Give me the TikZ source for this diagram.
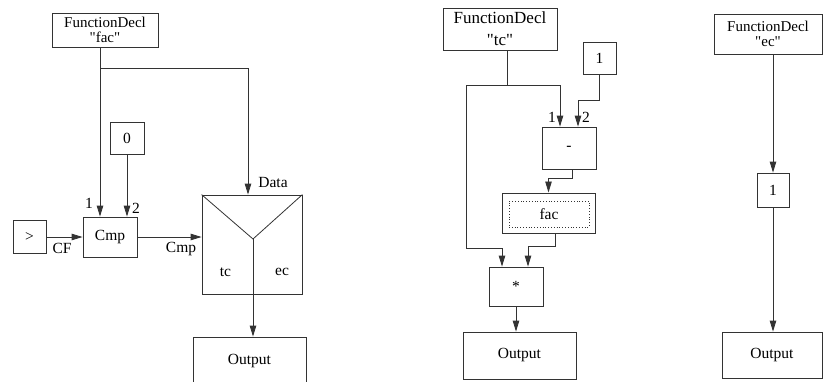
\documentclass[tikz,border=0pt]{standalone}
\usepackage{fontspec}
\setmainfont{Liberation Serif}
\usetikzlibrary{arrows.meta}

\begin{document}
\begin{tikzpicture}[x=1pt,y=-1pt,
  box/.style={draw=black!80, line width=0.8pt, inner sep=0pt, align=center,
              font=\fontsize{15.5}{16}\selectfont},
  decl/.style={box, font=\fontsize{15}{14.5}\selectfont},
  wire/.style={draw=black!80, line width=0.8pt},
  arr/.style={wire, -{Triangle[length=11pt,width=6.5pt]}},
  lbl/.style={inner sep=0pt, font=\fontsize{15.5}{16}\selectfont}]

\clip (0,0) rectangle (823,381);

% ---------- fac ----------
\node[decl,minimum width=106pt,minimum height=34pt] (fdfac) at (105,30) {FunctionDecl\\\textquotedbl fac\textquotedbl};
\node[box,minimum width=34pt,minimum height=32pt] (zero) at (127,138) {0};
\node[box,minimum width=54pt,minimum height=40pt] (cmp) at (110,237) {Cmp};
\node[box,minimum width=33pt,minimum height=33pt] (gt) at (29.5,237) {>};
\node[box,minimum width=100pt,minimum height=99pt] (sw) at (252,244.5) {};
\coordinate (swc) at (253,239);
\draw[wire] (sw.north west) -- (swc) -- (sw.north east);
\node[box,minimum width=113pt,minimum height=48pt] (outl) at (249.5,361) {Output};

\coordinate (fork) at (100,68);
\coordinate (datain) at (248,68);
\draw[arr] (fork |- fdfac.south) -- (fork |- cmp.north);
\draw[arr] (fork) -- (datain) -- (datain |- sw.north);
\draw[arr] (zero.south) -- (zero.south |- cmp.north);
\draw[arr] (gt.east) -- (gt.east -| cmp.west);
\draw[arr] (cmp.east) -- (cmp.east -| sw.west);
\draw[arr] (swc) -- (swc |- outl.north);

\node[lbl] (l1) at (89,203) {1};
\node[lbl] (l2) at (136,208) {2};
\node[lbl] (ldata) at (273,182) {Data};
\node[lbl] (lcf) at (62,248) {CF};
\node[lbl] (lcmp) at (181,249) {Cmp};
\node[lbl] (ltc) at (225.5,272) {tc};
\node[lbl] (lec) at (282,272) {ec};

% ---------- tc ----------
\node[box,font=\fontsize{17}{22}\selectfont,minimum width=114pt,minimum height=42pt] (fdtc) at (500,29) {FunctionDecl\\\textquotedbl tc\textquotedbl};
\node[box,minimum width=33pt,minimum height=32pt] (onem) at (599.5,58) {1};
\node[box,minimum width=54pt,minimum height=42pt] (minus) at (569,148) {-};
\node[box,line width=1pt,minimum width=93pt,minimum height=40pt] (fac) at (548.5,213) {};
\node[draw=black!80,dotted,line width=0.8pt,inner sep=0pt,minimum width=80pt,minimum height=26pt,
      font=\fontsize{15.5}{16}\selectfont] (facin) at (549,214) {fac};
\node[box,minimum width=54pt,minimum height=39pt] (star) at (516,286.5) {*};
\node[box,minimum width=113pt,minimum height=47pt] (outm) at (519.5,355.5) {Output};

\coordinate (tcfork) at (507,85);
\coordinate (tcleft) at (466,248);
\draw[wire] (tcfork |- fdtc.south) -- (tcfork);
\draw[arr] (tcfork) -| ([xshift=-9pt]minus.north);
\draw[arr] (tcfork) -| (tcleft) -| ([xshift=-14pt]star.north);
\draw[arr] (onem.south) -- ++(0,26) -| ([xshift=9pt]minus.north);
\draw[arr] ([xshift=3pt]minus.south) -- ++(0,9) -| (fac.north);
\draw[arr] ([xshift=6.5pt]fac.south) -- ++(0,13) -| ([xshift=12pt]star.north);
\draw[arr] (star.south) -- (star.south |- outm.north);

\node[lbl] (m1) at (552,117) {1};
\node[lbl] (m2) at (586,117) {2};

% ---------- ec ----------
\node[decl,minimum width=108pt,minimum height=40pt] (fdec) at (768,34) {FunctionDecl\\\textquotedbl ec\textquotedbl};
\node[box,minimum width=32pt,minimum height=34pt] (oner) at (773,190) {1};
\node[box,minimum width=100pt,minimum height=46pt] (outr) at (772,355) {Output};
\draw[arr] (oner.north |- fdec.south) -- (oner.north);
\draw[arr] (oner.south) -- (oner.south |- outr.north);
\end{tikzpicture}
\end{document}
